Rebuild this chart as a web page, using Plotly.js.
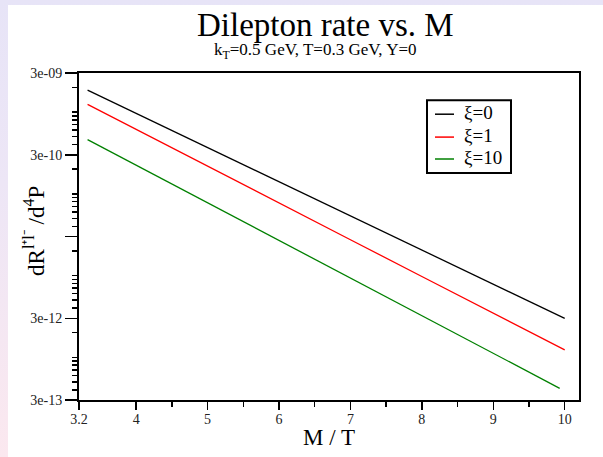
<!DOCTYPE html>
<html>
<head>
<meta charset="utf-8">
<script src="https://cdn.plot.ly/plotly-3.0.1.min.js"></script>
<style>
html,body{margin:0;padding:0;width:603px;height:457px;overflow:hidden;
background:linear-gradient(to bottom,#e7e4f7 0%,#ede6f6 40%,#fbe8ef 100%);}
#plot{position:absolute;left:8px;top:5px;width:595px;height:452px;background:#fff;}
</style>
</head>
<body>
<div id="plot"></div>
<script>
// M/T values
const mt = [3.32, 4, 5, 6, 7, 8, 9, 10];
const mtGreen = [3.32, 4, 5, 6, 7, 8, 9, 9.93];
// rates
const xi0 = [1.85e-9, 9.6e-10, 3.67e-10, 1.41e-10, 5.37e-11, 2.05e-11, 7.84e-12, 2.99e-12];
const xi1 = [1.24e-9, 6.11e-10, 2.17e-10, 7.71e-11, 2.74e-11, 9.73e-12, 3.46e-12, 1.23e-12];
const xi10 = [4.6e-10, 2.24e-10, 7.75e-11, 2.69e-11, 9.31e-12, 3.22e-12, 1.12e-12, 4.17e-13];
const names = ['ξ=0', 'ξ=1', 'ξ=10'];
const colors = ['#000000', '#ff0000', '#008000'];
const xTickVals = [3.2, 4, 5, 6, 7, 8, 9, 10];
const xTickText = ['3.2', '4', '5', '6', '7', '8', '9', '10'];
const xMinorVals = [4.5, 5.5, 6.5, 7.5, 8.5, 9.5];
const yTickVals = [3e-13, 3e-12, 3e-11, 3e-10, 3e-9];
const yTickText = ['3e-13', '3e-12', ' ', '3e-10', '3e-09'];

const yMinor = [];
[-13, -12, -11, -10, -9].forEach(e => {
  [1,2,3,4,5,6,7,8,9].forEach(m => {
    const v = m * Math.pow(10, e);
    if (v > 3.01e-13 && v < 2.99e-9 && m !== 3) yMinor.push(v);
  });
});

const serif = 'Liberation Serif, Times New Roman, serif';
const xs = [mt, mt, mtGreen];
const ys = [xi0, xi1, xi10];
const traces = names.map((n, i) => ({
  x: xs[i], y: ys[i], name: n, type: 'scatter', mode: 'lines',
  line: {color: colors[i], width: 1.3}, showlegend: false
}));

// hand-built legend box (layout positions in paper units)
const legX0 = 0.696, legX1 = 0.864, legY0 = 0.694, legY1 = 0.917;
const legRowY = [0.874, 0.804, 0.737];
const shapes = [{type: 'rect', xref: 'paper', yref: 'paper', x0: legX0, x1: legX1, y0: legY0, y1: legY1,
  line: {color: '#000', width: 2}, fillcolor: '#fff', layer: 'above'}];
const legAnn = [];
names.forEach((n, i) => {
  shapes.push({type: 'line', xref: 'paper', yref: 'paper', x0: 0.712, x1: 0.75, y0: legRowY[i], y1: legRowY[i],
    line: {color: colors[i], width: 1.5}, layer: 'above'});
  legAnn.push({text: n, xref: 'paper', yref: 'paper', x: 0.766, y: legRowY[i] + 0.004,
    xanchor: 'left', yanchor: 'middle', showarrow: false,
    font: {family: serif, size: 19, color: '#000'}});
});

const layout = {
  width: 595, height: 452,
  margin: {l: 71, r: 24, t: 68, b: 57},
  paper_bgcolor: '#ffffff', plot_bgcolor: '#ffffff',
  font: {family: serif, color: '#000'},
  showlegend: false,
  xaxis: {range: [3.2, 10.2], showgrid: false, zeroline: false,
    showline: true, mirror: true, linecolor: '#000', linewidth: 2,
    tickmode: 'array', tickvals: xTickVals, ticktext: xTickText,
    ticks: 'outside', ticklen: 8, tickwidth: 1.5, tickcolor: '#000',
    ticklabelstandoff: -3,
    tickfont: {family: serif, size: 14, color: '#222'},
    minor: {tickmode: 'array', tickvals: xMinorVals, ticks: 'outside', ticklen: 5, tickwidth: 1.5, tickcolor: '#000', showgrid: false}
  },
  yaxis: {type: 'log', range: [Math.log10(3e-13), Math.log10(3e-9)],
    showgrid: false, zeroline: false,
    showline: true, mirror: true, linecolor: '#000', linewidth: 2,
    tickmode: 'array', tickvals: yTickVals, ticktext: yTickText,
    ticks: 'outside', ticklen: 12, tickwidth: 1.5, tickcolor: '#000',
    tickfont: {family: serif, size: 14, color: '#222'},
    minor: {tickmode: 'array', tickvals: yMinor, ticks: 'outside', ticklen: 5, tickwidth: 1.5, tickcolor: '#000', showgrid: false}
  },
  shapes: shapes,
  annotations: [
    {text: 'Dilepton rate vs. M', xref: 'paper', yref: 'paper', x: 0.492, y: 1.147,
     xanchor: 'center', yanchor: 'middle', showarrow: false,
     font: {family: serif, size: 33, color: '#000'}},
    {text: 'k<sub>T</sub>=0.5 GeV, T=0.3 GeV, Y=0', xref: 'paper', yref: 'paper', x: 0.472, y: 1.066,
     xanchor: 'center', yanchor: 'middle', showarrow: false,
     font: {family: serif, size: 17, color: '#000'}},
    {text: 'dR<sup>l⁺l⁻</sup> /d<sup>4</sup>P', xref: 'paper', yref: 'paper', x: -0.088, y: 0.517,
     xanchor: 'center', yanchor: 'middle', showarrow: false, textangle: -90,
     font: {family: serif, size: 23, color: '#000'}},
    {text: 'M / T', xref: 'paper', yref: 'paper', x: 0.5, y: -0.116,
     xanchor: 'center', yanchor: 'middle', showarrow: false,
     font: {family: serif, size: 23, color: '#000'}}
  ].concat(legAnn)
};

Plotly.newPlot('plot', traces, layout, {displayModeBar: false, staticPlot: true});
</script>
</body>
</html>
